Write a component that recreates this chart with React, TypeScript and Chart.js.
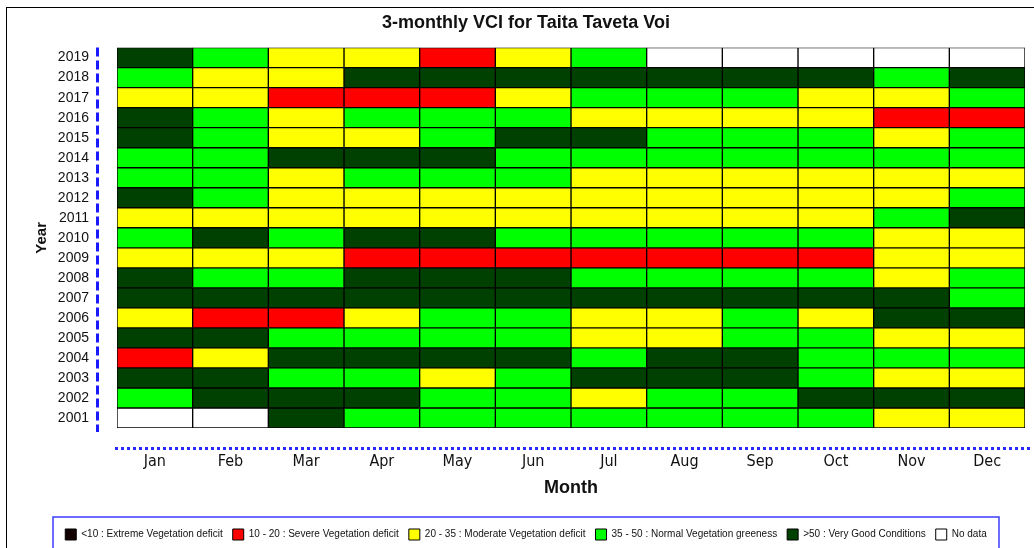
import { useEffect, useRef } from 'react';
import { Chart, registerables } from 'chart.js';

Chart.register(...registerables);

const TITLE = '3-monthly VCI for Taita Taveta Voi';
const X_TITLE = 'Month';
const Y_TITLE = 'Year';

const MONTHS = ['Jan', 'Feb', 'Mar', 'Apr', 'May', 'Jun', 'Jul', 'Aug', 'Sep', 'Oct', 'Nov', 'Dec'];
const YEARS = [
  '2001', '2002', '2003', '2004', '2005', '2006', '2007', '2008', '2009', '2010',
  '2011', '2012', '2013', '2014', '2015', '2016', '2017', '2018', '2019',
];

// VCI classes: X <10, R 10-20, Y 20-35, G 35-50, D >50, W no data
const CLASS_KEYS = ['X', 'R', 'Y', 'G', 'D', 'W'];
const CLASS_LABELS = [
  '<10 : Extreme Vegetation deficit',
  '10 - 20 : Severe Vegetation deficit',
  '20 - 35 : Moderate Vegetation deficit',
  '35 - 50 : Normal Vegetation greeness',
  '>50 : Very Good Conditions',
  'No data',
];
const CLASS_COLORS = ['#120000', '#ff0000', '#ffff00', '#00ff00', '#004000', '#ffffff'];

// one row per year (2001 ... 2019), one entry per month (Jan ... Dec)
const VCI_CLASS: string[][] = [
  ['W', 'W', 'D', 'G', 'G', 'G', 'G', 'G', 'G', 'G', 'Y', 'Y'], // 2001
  ['G', 'D', 'D', 'D', 'G', 'G', 'Y', 'G', 'G', 'D', 'D', 'D'], // 2002
  ['D', 'D', 'G', 'G', 'Y', 'G', 'D', 'D', 'D', 'G', 'Y', 'Y'], // 2003
  ['R', 'Y', 'D', 'D', 'D', 'D', 'G', 'D', 'D', 'G', 'G', 'G'], // 2004
  ['D', 'D', 'G', 'G', 'G', 'G', 'Y', 'Y', 'G', 'G', 'Y', 'Y'], // 2005
  ['Y', 'R', 'R', 'Y', 'G', 'G', 'Y', 'Y', 'G', 'Y', 'D', 'D'], // 2006
  ['D', 'D', 'D', 'D', 'D', 'D', 'D', 'D', 'D', 'D', 'D', 'G'], // 2007
  ['D', 'G', 'G', 'D', 'D', 'D', 'G', 'G', 'G', 'G', 'Y', 'G'], // 2008
  ['Y', 'Y', 'Y', 'R', 'R', 'R', 'R', 'R', 'R', 'R', 'Y', 'Y'], // 2009
  ['G', 'D', 'G', 'D', 'D', 'G', 'G', 'G', 'G', 'G', 'Y', 'Y'], // 2010
  ['Y', 'Y', 'Y', 'Y', 'Y', 'Y', 'Y', 'Y', 'Y', 'Y', 'G', 'D'], // 2011
  ['D', 'G', 'Y', 'Y', 'Y', 'Y', 'Y', 'Y', 'Y', 'Y', 'Y', 'G'], // 2012
  ['G', 'G', 'Y', 'G', 'G', 'G', 'Y', 'Y', 'Y', 'Y', 'Y', 'Y'], // 2013
  ['G', 'G', 'D', 'D', 'D', 'G', 'G', 'G', 'G', 'G', 'G', 'G'], // 2014
  ['D', 'G', 'Y', 'Y', 'G', 'D', 'D', 'G', 'G', 'G', 'Y', 'G'], // 2015
  ['D', 'G', 'Y', 'G', 'G', 'G', 'Y', 'Y', 'Y', 'Y', 'R', 'R'], // 2016
  ['Y', 'Y', 'R', 'R', 'R', 'Y', 'G', 'G', 'G', 'Y', 'Y', 'G'], // 2017
  ['G', 'Y', 'Y', 'D', 'D', 'D', 'D', 'D', 'D', 'D', 'G', 'D'], // 2018
  ['D', 'G', 'Y', 'Y', 'R', 'Y', 'G', 'W', 'W', 'W', 'W', 'W'], // 2019
];

const FONT = "'Liberation Sans', Arial, Helvetica, sans-serif";
const NARROW = "'Liberation Sans Narrow', 'DejaVu Sans Condensed', 'Liberation Sans', Arial, sans-serif";

const colorOf = (key: string) => CLASS_COLORS[CLASS_KEYS.indexOf(key)];

const decorPlugin = {
  id: 'decor',
  beforeDraw(chart: any) {
    const { ctx, width, height } = chart;
    ctx.save();
    ctx.fillStyle = '#ffffff';
    ctx.fillRect(0, 0, width, height);
    ctx.strokeStyle = '#000000';
    ctx.lineWidth = 1;
    ctx.strokeRect(0.5, 0.5, width - 1, height - 1);
    ctx.restore();
  },
  afterDraw(chart: any) {
    const { ctx, chartArea: a, legend } = chart;
    ctx.save();
    // dashed y axis line
    ctx.strokeStyle = '#1a1aff';
    ctx.lineWidth = 3;
    ctx.setLineDash([9, 4]);
    const xl = a.left - 19.5;
    ctx.beginPath();
    ctx.moveTo(xl, a.top);
    ctx.lineTo(xl, a.bottom + 4);
    ctx.stroke();
    // dotted x axis line
    ctx.strokeStyle = '#2a2aff';
    ctx.setLineDash([3, 3]);
    const yb = a.bottom + 20.5;
    ctx.beginPath();
    ctx.moveTo(a.left - 2, yb);
    ctx.lineTo(a.right + 5, yb);
    ctx.stroke();
    // legend frame
    if (legend) {
      ctx.setLineDash([]);
      ctx.lineWidth = 1.5;
      ctx.strokeStyle = '#3c3cff';
      ctx.strokeRect(legend.left + 26, legend.top - 2, legend.right - legend.left - 52, legend.bottom - legend.top + 20);
    }
    ctx.restore();
  },
};

export default function App() {
  const ref = useRef<HTMLCanvasElement | null>(null);

  useEffect(() => {
    document.body.style.margin = '0';
    const canvas = ref.current;
    if (!canvas) return;

    const datasets = MONTHS.map((month, mi) => ({
      label: month,
      data: YEARS.map(() => [mi, mi + 1]),
      backgroundColor: YEARS.map((_, yi) => colorOf(VCI_CLASS[yi][mi])),
      borderColor: '#000000',
      borderWidth: 1,
      borderSkipped: false,
      grouped: false,
      barPercentage: 1,
      categoryPercentage: 1,
    }));

    const chart = new Chart(canvas, {
      type: 'bar',
      data: { labels: YEARS, datasets: datasets as any },
      plugins: [decorPlugin],
      options: {
        indexAxis: 'y',
        responsive: false,
        animation: false,
        layout: { padding: { left: 21, right: 21, top: 0, bottom: 0 } },
        scales: {
          x: {
            type: 'linear',
            min: 0,
            max: 12,
            grid: { display: false, drawTicks: false },
            border: { display: false },
            afterBuildTicks: (s: any) => {
              s.ticks = MONTHS.map((_, i) => ({ value: i + 0.5 }));
            },
            afterFit: (s: any) => {
              s.height = 91;
            },
            ticks: {
              autoSkip: false,
              maxRotation: 0,
              padding: 24,
              color: '#111111',
              font: { family: NARROW, size: 16 },
              callback: (_v: any, i: number) => MONTHS[i],
            },
            title: {
              display: true,
              text: X_TITLE,
              color: '#111111',
              font: { family: FONT, size: 18, weight: 'bold' },
              padding: { top: 0, bottom: 20 },
            },
          },
          y: {
            type: 'category',
            reverse: true,
            offset: true,
            grid: { display: false, drawTicks: false },
            border: { display: false },
            afterFit: (s: any) => {
              s.width = 90;
            },
            ticks: {
              autoSkip: false,
              padding: 28,
              color: '#111111',
              font: { family: FONT, size: 14 },
            },
            title: {
              display: true,
              text: Y_TITLE,
              color: '#111111',
              font: { family: FONT, size: 15, weight: 'bold' },
              padding: { top: 6, bottom: 0 },
            },
          },
        },
        plugins: {
          title: {
            display: true,
            text: TITLE,
            color: '#111111',
            font: { family: FONT, size: 18, weight: 'bold' },
            padding: { top: 5, bottom: 14 },
          },
          legend: {
            display: true,
            position: 'bottom',
            onClick: () => {},
            labels: {
              boxWidth: 11,
              boxHeight: 11,
              padding: 10,
              color: '#111111',
              font: { family: FONT, size: 10 },
              generateLabels: () =>
                CLASS_LABELS.map((text, i) => ({
                  text,
                  fillStyle: CLASS_COLORS[i],
                  strokeStyle: '#000000',
                  lineWidth: 1,
                  hidden: false,
                  fontColor: '#111111',
                })),
            },
          },
          tooltip: { enabled: false },
        },
      } as any,
    });

    return () => chart.destroy();
  }, []);

  return (
    <div style={{ position: 'fixed', left: 0, top: 0, width: 1034, height: 548, overflow: 'hidden', background: '#fff' }}>
      <canvas ref={ref} width={1040} height={543} style={{ position: 'absolute', left: 6, top: 7 }} />
    </div>
  );
}
